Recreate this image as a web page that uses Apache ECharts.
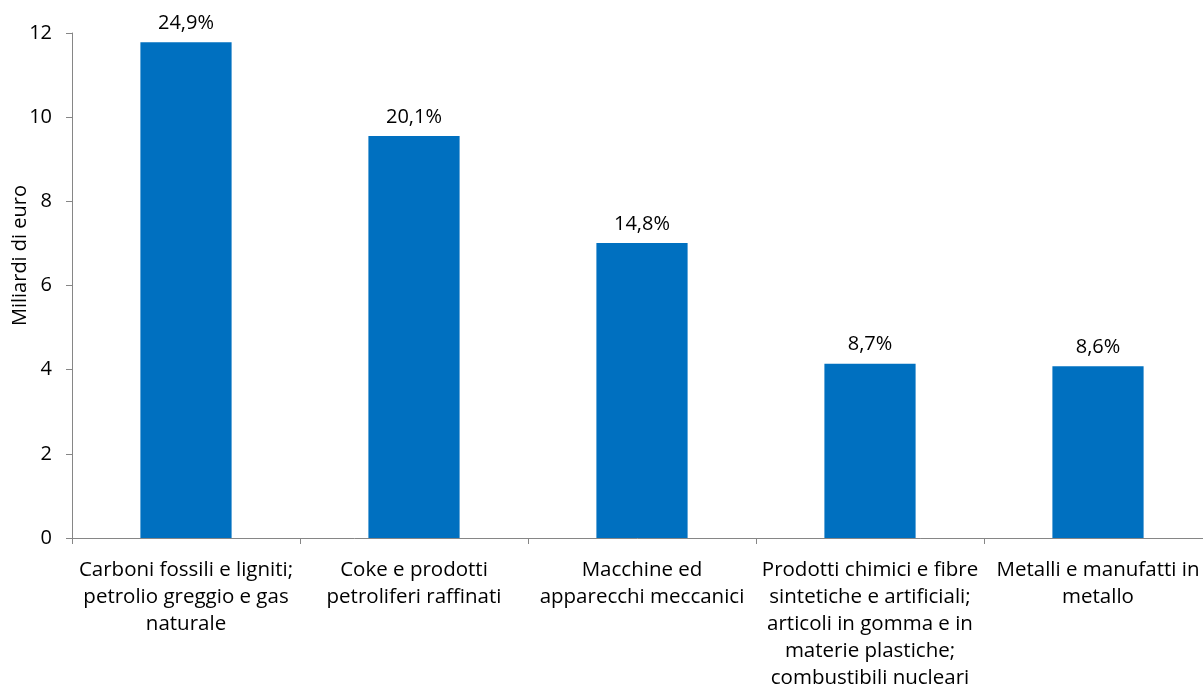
<!DOCTYPE html>
<html>
<head>
<meta charset="utf-8">
<script src="https://cdn.jsdelivr.net/npm/echarts@6/dist/echarts.min.js"></script>
<style>
html,body{margin:0;padding:0;background:#fff;}
#chart{width:1203px;height:691px;}
</style>
</head>
<body>
<div id="chart"></div>
<script>
const categories = [
  "Carboni fossili e ligniti;\npetrolio greggio e gas\nnaturale",
  "Coke e prodotti\npetroliferi raffinati",
  "Macchine ed\napparecchi meccanici",
  "Prodotti chimici e fibre\nsintetiche e artificiali;\narticoli in gomma e in\nmaterie plastiche;\ncombustibili nucleari",
  "Metalli e manufatti in\nmetallo"
];
const values = [11.78, 9.55, 7.01, 4.14, 4.08];
const shares = ["24,9%", "20,1%", "14,8%", "8,7%", "8,6%"];
const yTicks = { min: 0, max: 12, interval: 2 };
const yName = "Miliardi di euro";

const FONT = "'Open Sans', sans-serif";
const chart = echarts.init(document.getElementById('chart'), null, {renderer: 'canvas'});
chart.setOption({
  animation: false,
  backgroundColor: '#fff',
  grid: { left: 72, right: -9, top: 33, bottom: 153, containLabel: false, outerBoundsMode: 'none' },
  xAxis: {
    type: 'category',
    data: categories,
    boundaryGap: true,
    axisLine: { lineStyle: { color: '#868686', width: 1 } },
    axisTick: { show: true, length: 6, lineStyle: { color: '#868686' } },
    axisLabel: { color: '#000', fontFamily: FONT, fontSize: 20.5, lineHeight: 27, margin: 19, interval: 0 }
  },
  yAxis: {
    type: 'value',
    min: yTicks.min, max: yTicks.max, interval: yTicks.interval,
    name: yName,
    nameLocation: 'middle',
    nameGap: 42,
    nameMoveOverlap: false,
    nameTextStyle: { color: '#000', fontFamily: FONT, fontSize: 20, padding: [0, 0, 0, 60] },
    axisLine: { show: true, lineStyle: { color: '#868686', width: 1 } },
    axisTick: { show: true, length: 6, lineStyle: { color: '#868686' } },
    splitLine: { show: false },
    axisLabel: { color: '#000', fontFamily: FONT, fontSize: 20, margin: 20 }
  },
  series: [{
    type: 'bar',
    data: values,
    barWidth: '40%',
    itemStyle: { color: '#0070C0' },
    label: {
      show: true,
      position: 'top',
      distance: 9,
      color: '#000',
      fontFamily: FONT,
      fontSize: 20,
      formatter: p => shares[p.dataIndex]
    }
  }]
});
</script>
</body>
</html>
